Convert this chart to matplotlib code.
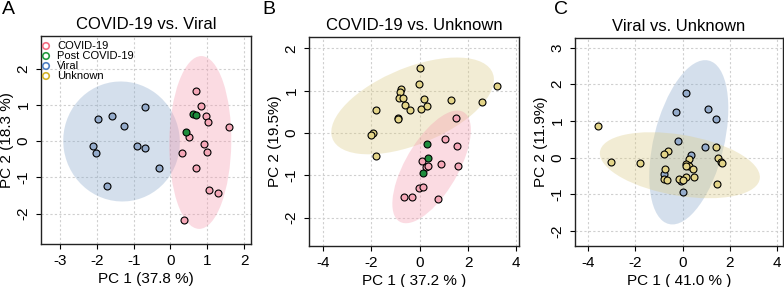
import numpy as np
import matplotlib
matplotlib.use("Agg")
import matplotlib.pyplot as plt
from matplotlib.patches import Ellipse

plt.rcParams['font.family'] = ['Liberation Sans', 'DejaVu Sans']

# ---------------- data ----------------
# Panel A: COVID-19 vs. Viral
A_covid_x = [0.69, 0.84, 0.97, 1.01, 1.60, 0.51, 0.90, 0.99, 0.32, 0.70, 1.04, 1.30, 0.37]
A_covid_y = [1.39, 0.96, 0.70, 0.52, 0.39, 0.12, -0.09, -0.31, -0.32, -0.73, -1.34, -1.42, -2.19]
A_post_x = [0.62, 0.70, 0.41]
A_post_y = [0.74, 0.73, 0.24]
A_viral_x = [-0.70, -1.96, -1.60, -1.27, -2.11, -2.03, -0.91, -0.69, -0.30, -1.73]
A_viral_y = [0.93, 0.61, 0.68, 0.42, -0.14, -0.32, -0.14, -0.18, -0.73, -1.24]

# Panel B: COVID-19 vs. Unknown
B_covid_x = [1.50, 1.03, 1.53, 0.11, 0.90, 1.58, 0.28, 0.34, -0.04, 0.14, -0.65, -0.33, 0.76]
B_covid_y = [0.36, -0.15, -0.31, -0.66, -0.73, -0.79, -0.81, -0.77, -1.31, -1.28, -1.51, -1.50, -1.55]
B_post_x = [0.29, 0.34, 0.12]
B_post_y = [-0.25, -0.60, -0.94]
B_unk_x = [0.00, -0.01, 3.21, -0.76, -0.80, -0.85, -0.67, 0.18, 1.31, 2.56,
           -0.59, -0.38, 0.04, 0.30, -1.82, -0.90, -0.90, -1.93, -2.02, -1.82]
B_unk_y = [1.53, 1.16, 1.10, 1.03, 0.96, 0.83, 0.83, 0.81, 0.79, 0.73,
           0.67, 0.55, 0.57, 0.63, 0.54, 0.36, 0.33, -0.01, -0.05, -0.54]

# Panel C: Viral vs. Unknown
C_viral_x = [0.14, -0.26, 1.06, 1.42, -0.18, 0.94, 0.35, -0.78, -0.06, 0.00]
C_viral_y = [1.76, 1.25, 1.32, 1.05, 0.44, 0.30, 0.07, -0.44, -0.65, -0.93]
C_unk_x = [-3.59, -3.02, -1.80, 1.43, -0.60, -0.77, 0.26, 1.51, 1.62, 1.66, 0.16,
           0.29, 0.14, 0.43, -0.75, -0.78, -0.64, -0.15, 0.14, 0.03, 0.48, 1.46]
C_unk_y = [0.87, -0.11, -0.14, 0.29, 0.18, 0.09, -0.04, -0.01, -0.13, -0.16, -0.18,
           -0.23, -0.24, -0.30, -0.30, -0.58, -0.61, -0.57, -0.53, -0.61, -0.54, -0.73]

titles = ["COVID-19 vs. Viral", "COVID-19 vs. Unknown", "Viral vs. Unknown"]
panel_letters = ["A", "B", "C"]
xlabels = ["PC 1 (37.8 %)", "PC 1 ( 37.2 % )", "PC 1 ( 41.0 % )"]
ylabels = ["PC 2 (18.3 %)", "PC 2 (19.5%)", "PC 2 (11.9%)"]
legend_labels = ["COVID-19", "Post COVID-19", "Viral", "Unknown"]

# ---------------- styles ----------------
col_point = {"covid": "#F5A7B7", "post": "#1E8C3C", "viral": "#94ABCB", "unk": "#E3D488"}
col_ell = {"covid": "#F59AAE", "viral": "#86A6CB", "unk": "#DCCB84"}
col_leg = ["#F26E82", "#23993F", "#4E7FC4", "#D2B22A"]

fig = plt.figure(figsize=(7.84, 2.87), dpi=100)
W, H = 784, 287

def add_ax(x0, y0, x1, y1):
    return fig.add_axes([x0 / W, 1 - y1 / H, (x1 - x0) / W, (y1 - y0) / H])

axA = add_ax(41, 36, 251, 244)
axB = add_ax(309, 37, 519, 246)
axC = add_ax(575, 38, 783, 246)

def conf_ellipse(ax, xs, ys, color, alpha, z=1):
    xs = np.asarray(xs); ys = np.asarray(ys)
    cov = np.cov(xs, ys)
    vals, vecs = np.linalg.eigh(cov)
    order = vals.argsort()[::-1]
    vals, vecs = vals[order], vecs[:, order]
    ang = np.degrees(np.arctan2(vecs[1, 0], vecs[0, 0]))
    k = np.sqrt(5.991)
    e = Ellipse((xs.mean(), ys.mean()), 2 * k * np.sqrt(vals[0]), 2 * k * np.sqrt(vals[1]),
                angle=ang, facecolor=color, edgecolor='none', alpha=alpha, zorder=z)
    ax.add_patch(e)

def pts(ax, xs, ys, color):
    ax.scatter(xs, ys, s=25, c=color, edgecolors='black', linewidths=0.8, zorder=5)

def style(ax, xlim, ylim, xticks, yticks, title, xl, yl, letter, letter_x):
    ax.set_xlim(*xlim); ax.set_ylim(*ylim)
    ax.set_xticks(xticks); ax.set_yticks(yticks)
    ax.set_xticklabels([str(t) for t in xticks])
    ax.set_yticklabels([str(t) for t in yticks], rotation=90, va='center')
    ax.grid(True, color='#CFCFCF', linestyle=(0, (2, 2)), linewidth=0.8)
    ax.set_axisbelow(True)
    ax.tick_params(direction='out', length=3.5, width=0.8, labelsize=11, pad=4, colors='black')
    for s in ax.spines.values():
        s.set_linewidth(1.0); s.set_color('#222222')
    ax.set_title(title, fontsize=12, pad=5)
    ax.set_xlabel(xl, fontsize=11, labelpad=2.5)
    ax.set_ylabel(yl, fontsize=11, labelpad=2)
    fig.text(letter_x / W, 1 - 10 / H, letter, fontsize=14, ha='left', va='center')

# Panel A
conf_ellipse(axA, A_viral_x, A_viral_y, col_ell["viral"], 0.35)
conf_ellipse(axA, A_covid_x + A_post_x, A_covid_y + A_post_y, col_ell["covid"], 0.35)
pts(axA, A_viral_x, A_viral_y, col_point["viral"])
pts(axA, A_covid_x, A_covid_y, col_point["covid"])
pts(axA, A_post_x, A_post_y, col_point["post"])
style(axA, (-3.52, 2.19), (-2.84, 2.9), [-3, -2, -1, 0, 1, 2], [-2, -1, 0, 1, 2],
      titles[0], xlabels[0], ylabels[0], panel_letters[0], 2)
for i, (lab, c) in enumerate(zip(legend_labels, col_leg)):
    yy = 46 + i * 10
    axA.scatter([(46 - 41) / 210], [(244 - yy) / 208], s=22, facecolors='none', edgecolors=c,
                linewidths=1.2, transform=axA.transAxes, zorder=6, clip_on=False)
    axA.text((57 - 41) / 210, (244 - yy) / 208, lab, fontsize=8, va='center', ha='left',
             transform=axA.transAxes)

# Panel B
conf_ellipse(axB, B_unk_x, B_unk_y, col_ell["unk"], 0.35)
conf_ellipse(axB, B_covid_x + B_post_x, B_covid_y + B_post_y, col_ell["covid"], 0.35)
pts(axB, B_unk_x, B_unk_y, col_point["unk"])
pts(axB, B_covid_x, B_covid_y, col_point["covid"])
pts(axB, B_post_x, B_post_y, col_point["post"])
style(axB, (-4.58, 4.11), (-2.67, 2.27), [-4, -2, 0, 2, 4], [-2, -1, 0, 1, 2],
      titles[1], xlabels[1], ylabels[1], panel_letters[1], 262)

# Panel C
conf_ellipse(axC, C_viral_x, C_viral_y, col_ell["viral"], 0.35)
conf_ellipse(axC, C_unk_x, C_unk_y, col_ell["unk"], 0.35)
pts(axC, C_viral_x, C_viral_y, col_point["viral"])
pts(axC, C_unk_x, C_unk_y, col_point["unk"])
style(axC, (-4.54, 4.24), (-2.41, 3.26), [-4, -2, 0, 2, 4], [-2, -1, 0, 1, 2, 3],
      titles[2], xlabels[2], ylabels[2], panel_letters[2], 554)

fig.savefig("out.png", dpi=100)
